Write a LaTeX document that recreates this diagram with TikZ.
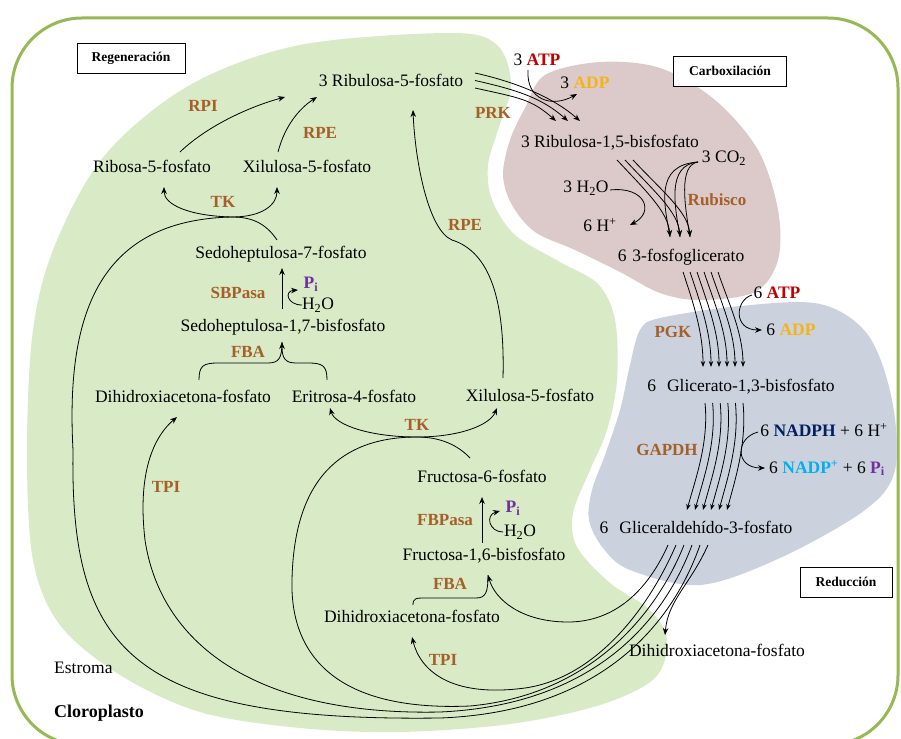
\documentclass[tikz,border=0pt]{standalone}
\usepackage{fontspec}
\setmainfont{Liberation Serif}
\usetikzlibrary{arrows.meta}

\definecolor{enzbrown}{RGB}{165,95,40}
\definecolor{atpred}{RGB}{192,0,0}
\definecolor{adpgold}{RGB}{245,180,20}
\definecolor{nadphblue}{RGB}{0,32,96}
\definecolor{nadpblue}{RGB}{0,176,240}
\definecolor{pipurple}{RGB}{112,48,160}
\definecolor{stromagreen}{RGB}{216,234,198}
\definecolor{carbpink}{RGB}{219,202,201}
\definecolor{redgrey}{RGB}{203,210,222}
\definecolor{edgegreen}{RGB}{150,185,85}

\newcommand{\atpT}{\textcolor{atpred}{\textbf{ATP}}}
\newcommand{\adpT}{\textcolor{adpgold}{\textbf{ADP}}}
\newcommand{\piT}{\textcolor{pipurple}{\textbf{P\textsubscript{i}}}}

\begin{document}
\begin{tikzpicture}[x=1pt,y=-1pt,>={Stealth[length=7pt,width=5.5pt]},
  met/.style={font=\fontsize{17.5}{20}\selectfont,inner sep=1pt},
  enz/.style={font=\fontsize{17}{20}\selectfont\bfseries,text=enzbrown,inner sep=1pt},
  phase/.style={draw,line width=0.7pt,fill=white,minimum height=30pt,font=\fontsize{13.5}{15}\selectfont\bfseries},
  rx/.style={line width=0.8pt},
  tip/.style={-{Stealth[length=6pt,width=4.5pt]}}]
\useasboundingbox (0,0) rectangle (901,738);
\fill[white] (0,0) rectangle (901,738);
\draw[edgegreen,line width=3pt,rounded corners=70pt] (12,18) rectangle (898,745);

\fill[stromagreen] plot[smooth cycle,tension=0.55] coordinates {(450,33) (497,45) (511,85) (498,130) (488,165) (492,200) (515,235) (560,262) (598,284) (615,320) (617,380) (607,430) (590,470) (573,513) (577,547) (610,583) (650,610) (667,640) (655,678) (600,705) (510,724) (400,732) (300,728) (200,712) (120,675) (60,625) (33,560) (27,450) (33,330) (55,245) (105,155) (190,85) (300,45)};
\fill[carbpink] plot[smooth cycle,tension=0.55] coordinates {(545,75) (600,62) (660,68) (715,100) (758,150) (778,210) (778,260) (755,292) (700,300) (660,293) (620,272) (575,250) (535,232) (512,205) (503,175) (510,140) (525,108)};
\fill[redgrey] plot[smooth cycle,tension=0.55] coordinates {(660,318) (740,306) (820,304) (868,335) (892,400) (895,470) (865,510) (780,558) (700,585) (630,570) (603,548) (589,520) (592,490) (605,455) (620,410) (630,365) (640,330)};

\node[phase,minimum width=108pt] (regen) at (131,58) {Regeneración};
\node[phase,minimum width=113pt] (carbox) at (730,71) {Carboxilación};
\node[phase,minimum width=92pt] (reduc) at (846,582) {Reducción};
\node[met,anchor=west] (estroma) at (53,668) {Estroma};
\node[met,anchor=west,font=\fontsize{18}{20}\selectfont\bfseries] (cloro) at (53,713) {Cloroplasto};

\node[met] (ru5p) at (391,80) {3 Ribulosa-5-fosfato};
\node[met] (r5p) at (152,166) {Ribosa-5-fosfato};
\node[met] (xu5pA) at (307,166) {Xilulosa-5-fosfato};
\node[met] (s7p) at (281,254) {Sedoheptulosa-7-fosfato};
\node[met] (sbp) at (283,327) {Sedoheptulosa-1,7-bisfosfato};
\node[met] (dhapA) at (183,396) {Dihidroxiacetona-fosfato};
\node[met] (e4p) at (354,396) {Eritrosa-4-fosfato};
\node[met] (xu5pB) at (530,395) {Xilulosa-5-fosfato};
\node[met] (f6p) at (482,476) {Fructosa-6-fosfato};
\node[met] (fbp) at (484,556) {Fructosa-1,6-bisfosfato};
\node[met] (dhapB) at (412,616) {Dihidroxiacetona-fosfato};
\node[met] (dhapC) at (717,650) {Dihidroxiacetona-fosfato};
\node[met] (rubp) at (610,143) {3 Ribulosa-1,5-bisfosfato};
\node[met] (pga) at (681,257) {6\hspace{6pt}3-fosfoglicerato};
\node[met] (bpg) at (741,387) {6\hspace{11pt}Glicerato-1,3-bisfosfato};
\node[met] (g3p) at (696,527) {6\hspace{11pt}Gliceraldehído-3-fosfato};

\node[met] (atpA) at (537,60) {3 \atpT};
\node[met] (adpA) at (585,83) {3 \adpT};
\node[met] (co2) at (724,158) {3 CO\textsubscript{2}};
\node[met] (h2oA) at (586,188) {3 H\textsubscript{2}O};
\node[met] (hA) at (600,225) {6 H\textsuperscript{+}};
\node[met] (atpB) at (777,293) {6 \atpT};
\node[met] (adpB) at (791,330) {6 \adpT};
\node[met] (nadph) at (824,430) {6 \textcolor{nadphblue}{\textbf{NADPH}} + 6 H\textsuperscript{+}};
\node[met] (nadp) at (827,468) {6 \textcolor{nadpblue}{\textbf{NADP\textsuperscript{+}}} + 6 \piT};
\node[met] (piA) at (311,284) {\piT};
\node[met] (h2oB) at (318,305) {H\textsubscript{2}O};
\node[met] (piB) at (513,508) {\piT};
\node[met] (h2oC) at (520,532) {H\textsubscript{2}O};

\node[enz] (rpi) at (203,106) {RPI};
\node[enz] (rpeA) at (320,133) {RPE};
\node[enz] (tkA) at (223,202) {TK};
\node[enz] (sbpase) at (238,293) {SBPasa};
\node[enz] (fbaA) at (248,352) {FBA};
\node[enz] (tkB) at (417,425) {TK};
\node[enz] (rpeB) at (465,225) {RPE};
\node[enz] (fbpase) at (445,520) {FBPasa};
\node[enz] (fbaB) at (450,584) {FBA};
\node[enz] (tpiB) at (443,660) {TPI};
\node[enz] (tpiA) at (166,487) {TPI};
\node[enz] (prk) at (493,113) {PRK};
\node[enz] (rubisco) at (717,200) {Rubisco};
\node[enz] (pgk) at (673,332) {PGK};
\node[enz] (gapdh) at (667,450) {GAPDH};

% regeneracion
\coordinate (tkjoinA) at (232,217);
\coordinate (tkjoinB) at (417,437);
\draw[rx,->] ([shift={(28,-14)}]r5p.center) .. controls (205,128) and (245,108) .. ([shift={(-106,17)}]ru5p.center);
\draw[rx,->] ([shift={(-29,-14)}]xu5pA.center) .. controls (285,125) and (300,108) .. ([shift={(-74,17)}]ru5p.center);
\draw[rx,->] (tkjoinA) .. controls (190,216) and (164,205) .. ([shift={(12,21)}]r5p.center);
\draw[rx,->] (tkjoinA) .. controls (262,217) and (277,205) .. ([shift={(-30,21)}]xu5pA.center);
\draw[rx] ([shift={(-4,-14)}]s7p.center) .. controls (265,222) and (250,217) .. (tkjoinA);
\draw[rx,->] ([shift={(-1,-18)}]sbp.center) -- ([shift={(1,14)}]s7p.center);
\draw[rx,->] ([shift={(-16,0)}]h2oB.center) .. controls (287,305) and (284,291) .. ([shift={(-13,6)}]piA.center);
\draw[rx] ([shift={(16,-16)}]dhapA.center) .. controls (199,366) and (203,363) .. (218,363) -- (268,363) .. controls (279,363) and (282,358) .. ([shift={(-1,15)}]sbp.center);
\draw[rx,->] ([shift={(-27,-16)}]e4p.center) .. controls (327,366) and (323,363) .. (308,363) -- (296,363) .. controls (285,363) and (282,358) .. ([shift={(-1,15)}]sbp.center);
\draw[rx,->] (tkjoinB) .. controls (370,437) and (335,425) .. ([shift={(-24,12)}]e4p.center);
\draw[rx,->] (tkjoinB) .. controls (460,437) and (490,425) .. ([shift={(-33,13)}]xu5pB.center);
\draw[rx] ([shift={(-12,-18)}]f6p.center) .. controls (455,442) and (435,437) .. (tkjoinB);
\draw[rx,->] ([shift={(-27,-17)}]xu5pB.center) .. controls (505,300) and (490,252) .. (452,240) .. controls (428,230) and (415,160) .. ([shift={(22,30)}]ru5p.center);
\draw[rx,->] ([shift={(-2,-13)}]fbp.center) -- ([shift={(0,21)}]f6p.center);
\draw[rx,->] ([shift={(-17,0)}]h2oC.center) .. controls (489,532) and (485,515) .. ([shift={(-13,3)}]piB.center);
\draw[rx] ([shift={(1,-11)}]dhapB.center) .. controls (413,598) and (416,598) .. (426,598) -- (476,598) .. controls (486,598) and (488,592) .. ([shift={(4,19)}]fbp.center);

% gliceraldehido-3-fosfato
\draw[rx,->] ([shift={(-28,18)}]g3p.center) .. controls (648,590) and (615,622) .. (568,622) .. controls (522,622) and (495,600) .. ([shift={(4,19)}]fbp.center);
\draw[rx,->] ([shift={(-20,18)}]g3p.center) .. controls (648,610) and (595,678) .. (525,688) .. controls (450,698) and (420,670) .. ([shift={(0,21)}]dhapB.center);
\draw[rx] ([shift={(-12,18)}]g3p.center) .. controls (656,615) and (590,695) .. (470,706) .. controls (330,712) and (290,650) .. (292,580) .. controls (294,480) and (340,437) .. (tkjoinB);
\draw[rx,->] ([shift={(-4,18)}]g3p.center) .. controls (664,620) and (595,705) .. (440,712) .. controls (250,716) and (160,640) .. (145,540) .. controls (138,480) and (150,440) .. ([shift={(-6,21)}]dhapA.center);
\draw[rx] ([shift={(4,18)}]g3p.center) .. controls (672,625) and (600,712) .. (440,718) .. controls (130,722) and (70,650) .. (73,450) .. controls (66,320) and (95,220) .. (tkjoinA);
\draw[rx,->] ([shift={(12,18)}]g3p.center) .. controls (690,585) and (668,600) .. ([shift={(-52,-15)}]dhapC.center);

% carboxilacion
\foreach \d in {0,1,2}
  \draw[rx,->] ([shift={(84,-7+7.5*\d)}]ru5p.center) .. controls +(45,10) and +(-25,-22) .. ([shift={(-30-12*\d,-22)}]rubp.center);
\draw[rx,->] ([shift={(-9,10)}]atpA.center) .. controls (526,100) and (552,108) .. ([shift={(-8,11)}]adpA.center);
\foreach \d in {0,1,2}
  \draw[rx,->] ([shift={(7+8*\d,17)}]rubp.center) .. controls +(30,32) and +(-2,-25) .. ([shift={(-11+10*\d,-20)}]pga.center);
\foreach \d/\ang in {0/45,1/32,2/20}
  \draw[rx] ([shift={(-26,4)}]co2.center) .. controls +(-\ang,3) and +(-5,-30) .. ([shift={(-11+10*\d,-20)}]pga.center);
\draw[rx,->] ([shift={(24,2)}]h2oA.center) .. controls (645,186) and (655,212) .. ([shift={(30,0)}]hA.center);

% reduccion
\foreach \d in {0,...,5}
  \draw[rx,tip] ([shift={(2+7*\d,15)}]pga.center) .. controls +(10,30) and +(0,-35) .. ([shift={(-38+8*\d,-20)}]bpg.center);
\draw[rx,->] ([shift={(-25,2)}]atpB.center) .. controls (735,300) and (733,330) .. ([shift={(-29,0)}]adpB.center);
\foreach \d in {0,...,5}
  \draw[rx,tip] ([shift={(-36+7.6*\d,16)}]bpg.center) .. controls +(4,40) and +(8,-30) .. ([shift={(-9+8*\d,-17)}]g3p.center);
\draw[rx,->] ([shift={(-66,2)}]nadph.center) .. controls (735,438) and (735,468) .. ([shift={(-62,0)}]nadp.center);
\end{tikzpicture}
\end{document}
